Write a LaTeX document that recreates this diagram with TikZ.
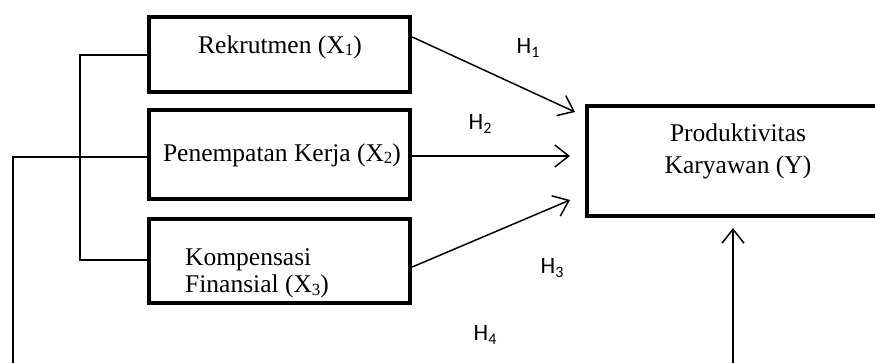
\documentclass[tikz,border=0pt]{standalone}
\usepackage{fontspec}
\setmainfont{Liberation Serif}
\newfontfamily\hfont{Carlito}
\usetikzlibrary{arrows.meta}
\newcommand{\subx}[1]{\raisebox{-2.5pt}{\fontsize{17}{17}\selectfont #1}}
\newcommand{\subh}[1]{\raisebox{-3.5pt}{\fontsize{16}{16}\selectfont #1}}
\begin{document}
\begin{tikzpicture}[x=1pt,y=-1pt,
  box/.style={draw,line width=4.5pt,minimum width=261pt,inner sep=0pt},
  txt/.style={inner sep=0pt,font=\fontsize{25.5}{28}\selectfont},
  hlab/.style={inner sep=0pt,font=\hfont\fontsize{23.5}{26}\selectfont},
  conn/.style={line width=1.5pt},
  arr/.style={line width=1.5pt,-{Straight Barb[length=14pt,width=22pt,line width=1.5pt]}}]
\useasboundingbox (0,0) rectangle (875,363);
\clip (0,0) rectangle (875,363);
% boxes
\node[box,minimum height=75pt] (x1) at (279.5,54.5) {};
\node[box,minimum height=89pt] (x2) at (279.5,154.5) {};
\node[box,minimum height=84pt] (x3) at (279.5,261) {};
\node[box,minimum width=302pt,minimum height=110pt] (y) at (738,161) {};
% texts
\node[txt] (t1) at (280,47) {Rekrutmen (X\subx{1})};
\node[txt] (t2) at (282,155) {Penempatan Kerja (X\subx{2})};
\node[txt,anchor=west,align=left,font=\fontsize{25.5}{27.5}\selectfont] (t3) at (185,273.5) {Kompensasi\\Finansial (X\subx{3})};
\node[txt,align=center,font=\fontsize{25.5}{32}\selectfont] (ty) at (738,151) {Produktivitas\\Karyawan (Y)};
% H labels
\node[hlab] (h1) at (528,48) {H\subh{1}};
\node[hlab] (h2) at (480,124) {H\subh{2}};
\node[hlab] (h3) at (552,268) {H\subh{3}};
\node[hlab] (h4) at (485,335) {H\subh{4}};
% free ends
\coordinate (e1) at (575,112);
\coordinate (e2) at (570,156);
\coordinate (e3) at (570,200);
\coordinate (bl) at (80,55);
\coordinate (bl3) at (80,260);
\coordinate (ll) at (13,157);
\coordinate (lb) at (13,363);
\coordinate (vb) at (733,363);
\coordinate (vt) at (733,228);
% arrows
\draw[arr] (x1.east |- 0,37) -- (e1);
\draw[arr] (x2.east |- 0,156) -- (e2);
\draw[arr] (x3.east |- 0,267) -- (e3);
\draw[arr] (vb) -- (vt);
% bracket
\draw[conn] (x1.west |- bl) -- (bl) -- (bl3) -- (x3.west |- bl3);
\draw[conn] (x2.west |- ll) -- (ll) -- (lb);
\end{tikzpicture}
\end{document}
